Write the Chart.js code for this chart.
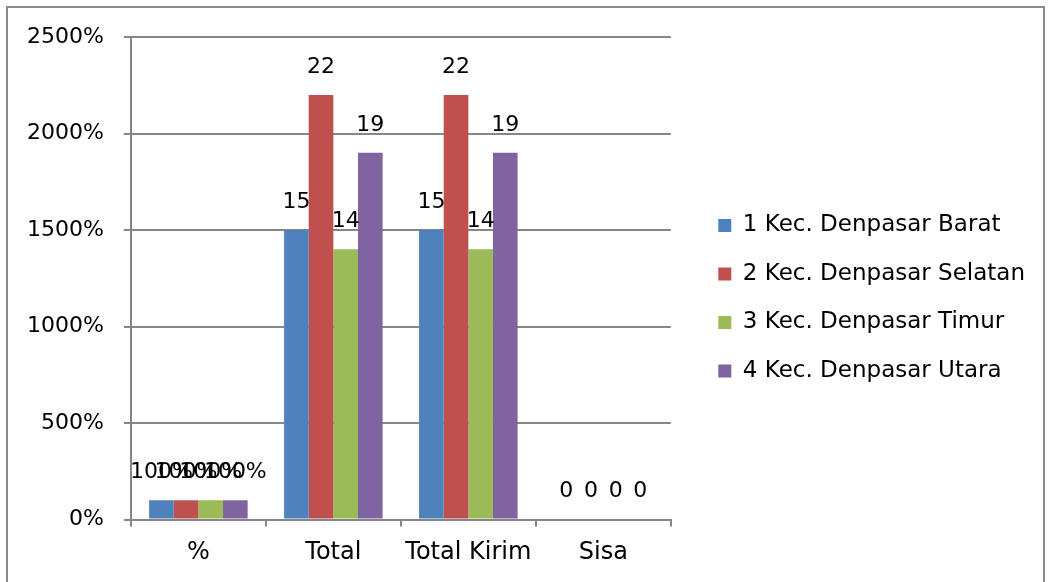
<!DOCTYPE html>
<html>
<head>
<meta charset="utf-8">
<script src="https://cdn.jsdelivr.net/npm/chart.js@4"></script>
<style>
  html, body { margin: 0; padding: 0; background: #fff; overflow: hidden; }
  #wrap { position: relative; width: 1050px; height: 582px; }
  #frame { position: absolute; left: 6px; top: 6px; width: 1035px; height: 620px; border: 2px solid #8a8a8a; pointer-events: none; }
</style>
</head>
<body>
<div id="wrap">
  <canvas id="c" width="1050" height="582"></canvas>
  <div id="frame"></div>
</div>
<script>
const categories = ['%', 'Total', 'Total Kirim', 'Sisa'];
const seriesNames = ['1 Kec. Denpasar Barat', '2 Kec. Denpasar Selatan', '3 Kec. Denpasar Timur', '4 Kec. Denpasar Utara'];
const barat   = [1, 15, 15, 0];
const selatan = [1, 22, 22, 0];
const timur   = [1, 14, 14, 0];
const utara   = [1, 19, 19, 0];
const labelFormats = ['percent', 'number', 'number', 'number'];
const colors = ['#4F81BD', '#C0504D', '#9BBB59', '#8064A2'];

const FONT = 'DejaVu Sans';
const GRID = '#868686';

const dataLabels = {
  id: 'dataLabels',
  afterDatasetsDraw(chart) {
    const ctx = chart.ctx;
    ctx.save();
    ctx.font = '22px "' + FONT + '"';
    ctx.fillStyle = '#000';
    ctx.textAlign = 'center';
    ctx.textBaseline = 'middle';
    chart.data.datasets.forEach((ds, di) => {
      const meta = chart.getDatasetMeta(di);
      meta.data.forEach((el, i) => {
        const v = ds.data[i];
        const txt = labelFormats[i] === 'percent' ? Math.round(v * 100) + '%' : String(v);
        ctx.fillText(txt, el.x, el.y - 28);
      });
    });
    ctx.restore();
  }
};

const legendShift = {
  id: 'legendShift',
  afterLayout(chart) {
    const l = chart.legend;
    if (l) { l.left += 22; l.right += 22; l.top -= 10; l.bottom -= 10; }
  }
};

const series = [barat, selatan, timur, utara];

new Chart(document.getElementById('c'), {
  type: 'bar',
  data: {
    labels: categories,
    datasets: series.map((d, i) => ({
      label: seriesNames[i],
      data: d,
      backgroundColor: colors[i],
      borderWidth: 0,
      categoryPercentage: 0.73,
      barPercentage: 1.0
    }))
  },
  options: {
    responsive: false,
    devicePixelRatio: 1,
    animation: false,
    layout: { padding: { left: 7, top: 37, bottom: 2.6, right: 37 } },
    plugins: {
      tooltip: { enabled: false },
      legend: {
        position: 'right',
        maxWidth: 420,
        labels: {
          boxWidth: 13,
          boxHeight: 13,
          padding: 25.5,
          color: '#000',
          font: { family: FONT, size: 23 }
        }
      }
    },
    scales: {
      x: {
        offset: true,
        grid: { display: true, drawOnChartArea: false, drawTicks: true, tickLength: 7, offset: true, color: GRID, lineWidth: 2 },
        border: { display: true, color: GRID, width: 2 },
        ticks: { color: '#000', font: { family: FONT, size: 24 }, padding: 12, maxRotation: 0 }
      },
      y: {
        min: 0,
        max: 25,
        grid: { color: GRID, lineWidth: 2, drawTicks: true, tickLength: 7 },
        border: { display: true, color: GRID, width: 2 },
        ticks: {
          stepSize: 5,
          color: '#000',
          font: { family: FONT, size: 22 },
          padding: 20,
          callback: v => (v * 100) + '%'
        }
      }
    }
  },
  plugins: [dataLabels, legendShift]
});
</script>
</body>
</html>
